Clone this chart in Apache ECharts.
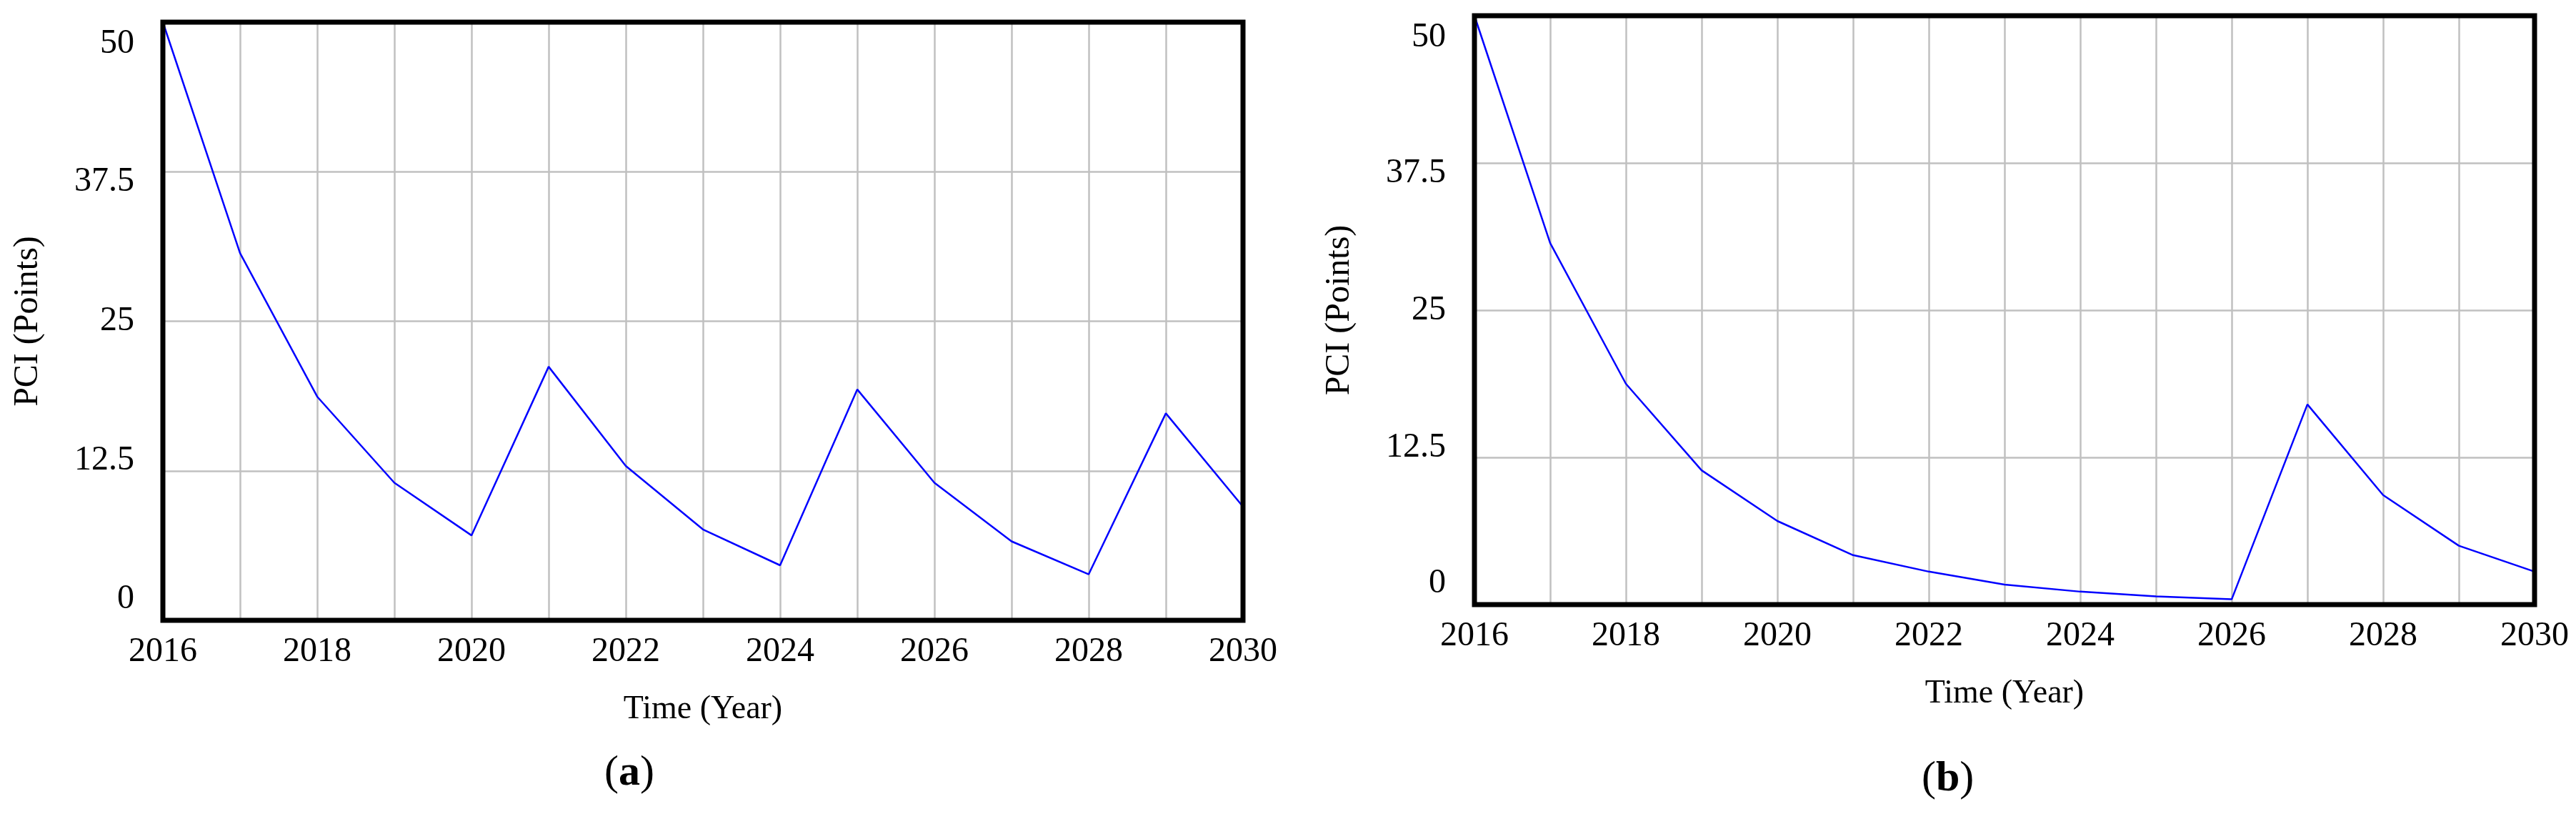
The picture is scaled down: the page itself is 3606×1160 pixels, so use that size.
<!DOCTYPE html>
<html><head><meta charset="utf-8">
<script src="https://cdn.jsdelivr.net/npm/echarts@6/dist/echarts.min.js"></script>
<style>html,body{margin:0;padding:0;background:#fff}#c{width:3606px;height:1160px}</style>
</head><body><div id="c"></div>
<script>
const years = [2016,2017,2018,2019,2020,2021,2022,2023,2024,2025,2026,2027,2028,2029,2030];
const pciA = [50,30.7,18.7,11.5,7.1,21.2,12.9,7.6,4.6,19.3,11.5,6.6,3.85,17.3,9.5];
const pciB = [50,30.7,18.75,11.4,7.1,4.2,2.8,1.7,1.1,0.7,0.45,17.0,9.3,5.0,2.8];
const yTicks = [0,12.5,25,37.5,50];
const panelTitles = ['a','b'];
const xName = 'Time (Year)';
const yName = 'PCI (Points)';

const font = 'Liberation Serif';
const chart = echarts.init(document.getElementById('c'));
const grids = [
  {left:228, top:31, width:1512, height:837},
  {left:2064, top:22, width:1484, height:824}
];
const yRich = {
  t:{fontFamily:font,fontSize:48,color:'#000',padding:[60,0,0,0]},
  t2:{fontFamily:font,fontSize:48,color:'#000',padding:[28,0,0,0]},
  m:{fontFamily:font,fontSize:48,color:'#000'},
  b2:{fontFamily:font,fontSize:48,color:'#000',padding:[0,0,28,0]},
  b:{fontFamily:font,fontSize:48,color:'#000',padding:[0,0,60,0]}
};
const yStyleKey = {'50':'t','37.5':'t2','25':'m','12.5':'b2','0':'b'};
function xAxis(i){return {gridIndex:i,type:'value',min:2016,max:2030,interval:1,
  name:xName,nameLocation:'middle',nameGap:102,
  nameTextStyle:{fontFamily:font,fontSize:46,color:'#000'},
  axisLine:{show:false},axisTick:{show:false},
  axisLabel:{margin:20,fontFamily:font,fontSize:48,color:'#000',
    formatter:v=>(v%2===0?String(v):'')},
  splitLine:{show:true,lineStyle:{color:'#c0c0c0',width:2.5}}};}
function yAxis(i){return {gridIndex:i,type:'value',min:0,max:50,interval:12.5,
  name:yName,nameLocation:'middle',nameGap:165,
  nameTextStyle:{fontFamily:font,fontSize:48,color:'#000'},
  axisLine:{show:false},axisTick:{show:false},
  axisLabel:{margin:40,rich:yRich,
    formatter:v=>(yTicks.includes(v)?'{'+yStyleKey[String(v)]+'|'+v+'}':'')},
  splitLine:{show:true,lineStyle:{color:'#c0c0c0',width:2.5}}};}
chart.setOption({
  animation:false,
  grid:grids.map(g=>Object.assign({show:false},g)),
  xAxis:[xAxis(0),xAxis(1)],
  yAxis:[yAxis(0),yAxis(1)],
  series:[pciA,pciB].map((d,i)=>({type:'line',xAxisIndex:i,yAxisIndex:i,showSymbol:false,
    lineStyle:{color:'#0000ff',width:2.5},data:years.map((y,k)=>[y,d[k]])})),
  graphic:[
    ...grids.map(g=>({type:'rect',z:100,shape:{x:g.left,y:g.top,width:g.width,height:g.height},
      style:{fill:'none',stroke:'#000',lineWidth:7}})),
    {type:'text',left:888-42,top:1052,style:{text:'({b|'+panelTitles[0]+'})',rich:{b:{fontWeight:'bold',fontFamily:font,fontSize:60}},fontFamily:font,fontSize:60,fill:'#000'}},
    {type:'text',left:2732-42,top:1060,style:{text:'({b|'+panelTitles[1]+'})',rich:{b:{fontWeight:'bold',fontFamily:font,fontSize:60}},fontFamily:font,fontSize:60,fill:'#000'}}
  ]
});
</script></body></html>
